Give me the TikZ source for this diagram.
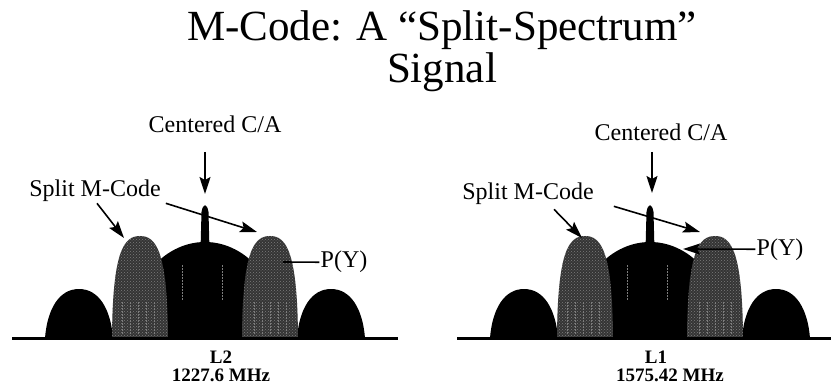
\documentclass[tikz,border=0pt]{standalone}
\usepackage{fontspec}
\setmainfont{Liberation Serif}
\usetikzlibrary{positioning}
\usetikzlibrary{arrows.meta}
\usetikzlibrary{patterns}
\definecolor{mgray}{RGB}{52,52,52}
\definecolor{sgray}{RGB}{125,125,125}

\tikzset{
  lbl/.style={font=\fontsize{24}{24}\selectfont, inner sep=1pt},
  title/.style={font=\fontsize{43}{43}\selectfont, inner sep=0pt},
  band/.style={font=\fontsize{19}{19}\selectfont\bfseries, inner sep=1pt},
  arr/.style={-{Stealth[length=17pt,width=11pt,inset=3pt]}, line width=1.6pt},
  split/.style={fill=mgray, postaction={pattern=crosshatch dots, pattern color=sgray}},
  streak/.style={draw=sgray, line width=0.8pt, dash pattern=on 2pt off 1pt},
  base/.style={line width=3pt}
}

% one lobe: centre, half width, height, style, shape of the sides (x and y)
\newcommand{\hump}[6]{%
  \fill[#4] ({#1-#2},338) .. controls ({#1-#5*#2},{338-#6*#3}) and ({#1-0.58*#2},{338-#3}) .. ({#1},{338-#3})
    .. controls ({#1+0.58*#2},{338-#3}) and ({#1+#5*#2},{338-#6*#3}) .. ({#1+#2},338) -- cycle;}

% the whole spectrum round a centre
\newcommand{\spectrum}[1]{%
  \hump{#1-126}{34}{49}{black}{0.93}{0.6}
  \hump{#1+126}{34}{49}{black}{0.93}{0.6}
  \fill[black] ({#1-78},338) arc[start angle=180, end angle=0, x radius=78pt, y radius=96pt] -- cycle;
  \fill[black] ({#1-4.5},250) -- ({#1-3.5},212) .. controls ({#1-2},203) and ({#1+2},203) .. ({#1+3.5},212) -- ({#1+4.5},250) -- cycle;
  \hump{#1-65}{28}{102}{split}{0.98}{0.85}
  \hump{#1+65}{28}{102}{split}{0.98}{0.85}
  \foreach \d in {-83,-75,-67,-59,-51,49,57,65,73,81} \draw[streak] ({#1+\d},334) -- ({#1+\d},302);
  \foreach \d in {-23,17} \draw[streak] ({#1+\d},300) -- ({#1+\d},265);
  \draw[base] ({#1-193},338) -- ({#1+193},338);
}

\begin{document}
\begin{tikzpicture}[x=1pt, y=-1pt]
        \fill[white] (0,0) rectangle (831,385);
        \useasboundingbox (0,0) rectangle (831,385);

        % title %
        \node[title, anchor=base] (tl1) at (442,41) {M-Code: A “Split-Spectrum”};
        \node[title, anchor=base] (tl2) at (442,83) {Signal};

        % spectra %
        \spectrum{205}
        \spectrum{650}

        % nodes L2 %
        \node[lbl, anchor=base] (caL) at (215,133) {Centered C/A};
        \coordinate (ctopL) at (205,152);
        \coordinate (ctipL) at (205,194);
        \node[lbl, anchor=base] (smL) at (95,197) {Split M-Code};
        \coordinate (mlL) at (124,238);
        \coordinate (mrL) at (257,232);
        \node[lbl, anchor=base] (pyL) at (344,268) {P(Y)};
        \coordinate (pytipL) at (283,262);
        \node[band, anchor=base] (bandL) at (221,363) {L2};
        \node[band, below=4pt of bandL] (fqL) {1227.6 MHz};

        % nodes L1 %
        \node[lbl, anchor=base] (caR) at (661,141) {Centered C/A};
        \coordinate (ctopR) at (652,152);
        \coordinate (ctipR) at (652,193);
        \node[lbl, anchor=base] (smR) at (528,200) {Split M-Code};
        \coordinate (mlR) at (582,238);
        \coordinate (mrR) at (700,232);
        \node[lbl, anchor=base] (pyR) at (780,255) {P(Y)};
        \coordinate (pytipR) at (683,249);
        \node[band, anchor=base] (bandR) at (656,363) {L1};
        \node[band, below=4pt of bandR, xshift=14pt] (fqR) {1575.42 MHz};

        % edges %
        \draw[arr] (ctopL) -- (ctipL);
        \draw[arr] ([xshift=2pt]smL.south) -- (mlL);
        \draw[arr] ([xshift=4pt]smL.south east) -- (mrL);
        \draw[line width=1.6pt] (pyL.west) -- (pytipL);
        \draw[arr] (ctopR) -- (ctipR);
        \draw[arr] ([xshift=26pt,yshift=-3pt]smR.south) -- (mlR);
        \draw[arr] ([xshift=19pt]smR.south east) -- (mrR);
        \draw[arr] (pyR.west) -- (pytipR);
\end{tikzpicture}
\end{document}
